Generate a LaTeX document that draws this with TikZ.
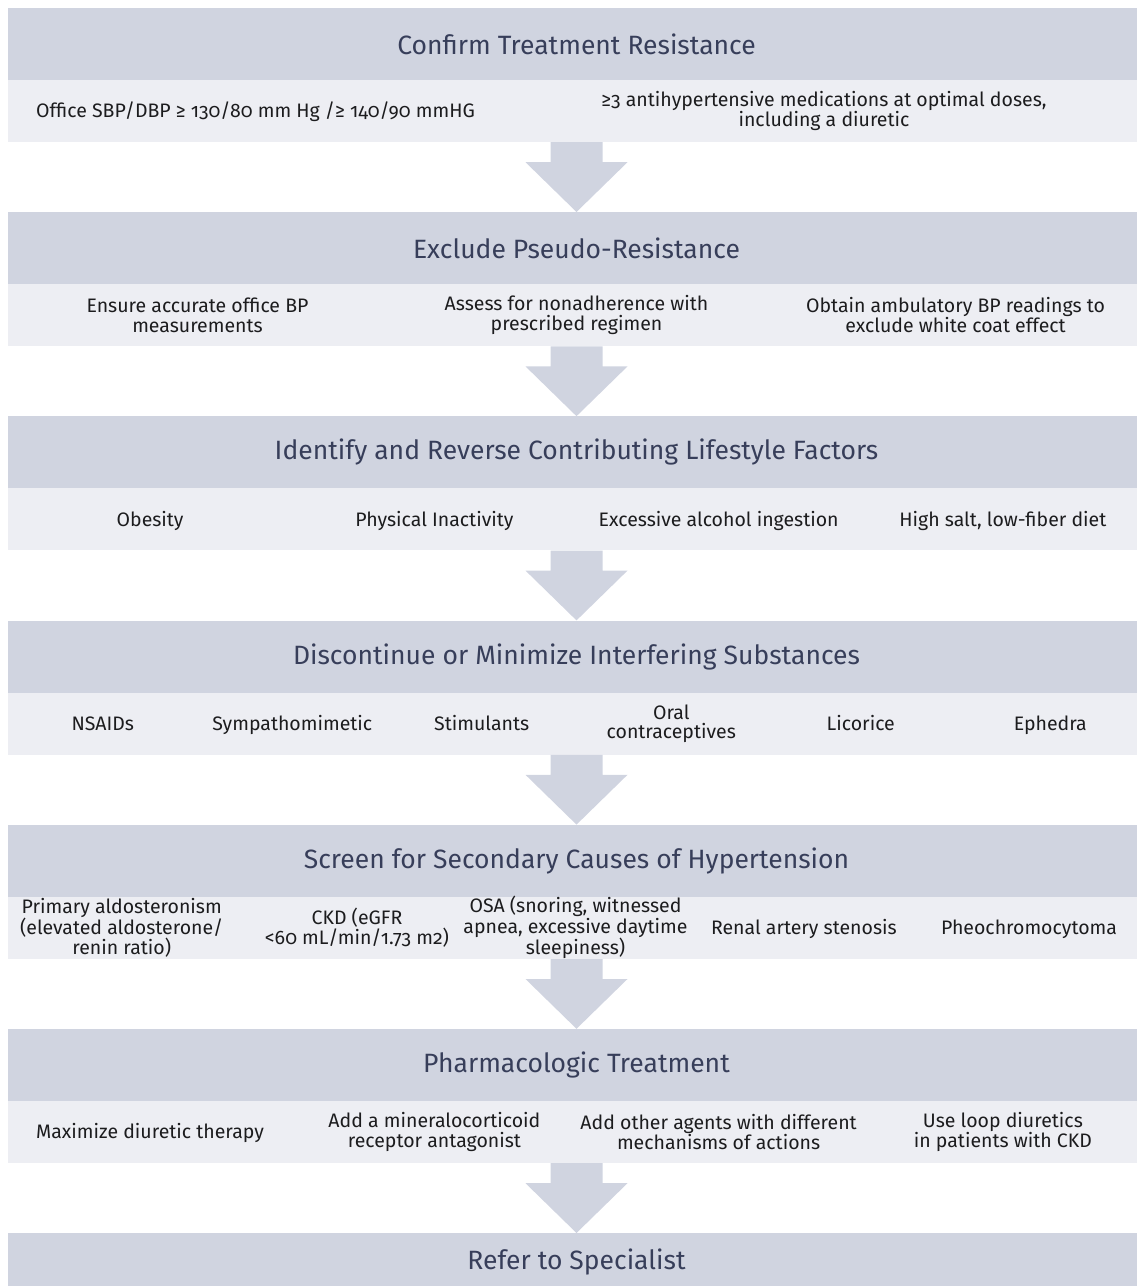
\documentclass[tikz,border=0pt]{standalone}
\usepackage{fontspec}
\setmainfont{Fira Sans}[Numbers=OldStyle]
\usetikzlibrary{calc}
\definecolor{headfill}{RGB}{208,212,224}
\definecolor{rowfill}{RGB}{237,238,243}
\definecolor{titleink}{RGB}{55,62,90}
\definecolor{itemink}{RGB}{28,28,30}

\begin{document}
\begin{tikzpicture}[x=1pt, y=-1pt,
    head/.style={fill=headfill, text=titleink, minimum width=1137pt, minimum height=72pt, inner sep=0pt, font=\fontsize{26.5}{30}\selectfont},
    row/.style={fill=rowfill, minimum width=1137pt, minimum height=62pt, inner sep=0pt},
    item/.style={text=itemink, align=center, inner sep=0pt, font=\fontsize{19.5}{19.5}\selectfont},
    oneline/.style={item, text height=18pt, text depth=4.6pt},
    flow/.style={fill=headfill}]
    \clip (0,0) rectangle (1137,1286);

    % 1
    \node[head] (h1) at (576.5,44) {Confirm Treatment Resistance};
    \node[row] (r1) at (576.5,111) {};
    \node[oneline] (c11) at (255.5,111) {Office SBP/DBP ≥ 130/80 mm Hg /≥ 140/90 mmHG};
    \node[item] (c12) at (824,111) {≥3 antihypertensive medications at optimal doses,\\including a diuretic};

    % 2
    \node[head] (h2) at (576.5,248.2) {Exclude Pseudo-Resistance};
    \node[row] (r2) at (576.5,315.2) {};
    \node[item] (c21) at (197.5,315.2) {Ensure accurate office BP\\measurements};
    \node[item] (c22) at (576.5,315.2) {Assess for nonadherence with\\prescribed regimen};
    \node[item] (c23) at (955.5,315.2) {Obtain ambulatory BP readings to\\exclude white coat effect};

    % 3
    \node[head] (h3) at (576.5,452.4) {Identify and Reverse Contributing Lifestyle Factors};
    \node[row] (r3) at (576.5,519.4) {};
    \node[oneline] (c31) at (150.1,519.4) {Obesity};
    \node[oneline] (c32) at (434.4,519.4) {Physical Inactivity};
    \node[oneline] (c33) at (718.6,519.4) {Excessive alcohol ingestion};
    \node[oneline] (c34) at (1002.9,519.4) {High salt, low-fiber diet};

    % 4
    \node[head] (h4) at (576.5,656.6) {Discontinue or Minimize Interfering Substances};
    \node[row] (r4) at (576.5,723.6) {};
    \node[oneline] (c41) at (102.75,723.6) {NSAIDs};
    \node[oneline] (c42) at (292.25,723.6) {Sympathomimetic};
    \node[oneline] (c43) at (481.75,723.6) {Stimulants};
    \node[item] (c44) at (671.25,723.6) {Oral\\contraceptives};
    \node[oneline] (c45) at (860.75,723.6) {Licorice};
    \node[oneline] (c46) at (1050.25,723.6) {Ephedra};

    % 5
    \node[head] (h5) at (576.5,860.8) {Screen for Secondary Causes of Hypertension};
    \node[row] (r5) at (576.5,927.8) {};
    \node[item, font=\fontsize{19.5}{18.5}\selectfont] (c51) at (121.7,927.8) {Primary aldosteronism\\(elevated aldosterone/\\renin ratio)};
    \node[item] (c52) at (357,927.8) {CKD (eGFR\\<60 mL/min/1.73 m2)};
    \node[item, font=\fontsize{19.5}{18.5}\selectfont] (c53) at (575.5,927.8) {OSA (snoring, witnessed\\apnea, excessive daytime\\sleepiness)};
    \node[oneline] (c54) at (803.9,927.8) {Renal artery stenosis};
    \node[oneline] (c55) at (1029,927.8) {Pheochromocytoma};

    % 6
    \node[head] (h6) at (576.5,1065) {Pharmacologic Treatment};
    \node[row] (r6) at (576.5,1132) {};
    \node[oneline] (c61) at (150.1,1132) {Maximize diuretic therapy};
    \node[item] (c62) at (434.4,1132) {Add a mineralocorticoid\\receptor antagonist};
    \node[item] (c63) at (718.6,1132) {Add other agents with different\\mechanisms of actions};
    \node[item] (c64) at (1002.9,1132) {Use loop diuretics\\in patients with CKD};

    % 7
    \node[head, minimum height=58pt] (h7) at (576.5,1262.2) {Refer to Specialist};

    % block arrows between the stages
    \foreach \a/\b in {r1/h2, r2/h3, r3/h4, r4/h5, r5/h6, r6/h7}
        \fill[flow] ($(\a.south)+(-26,0)$) -- ($(\a.south)+(26,0)$) -- ($(\a.south)+(26,20)$)
            -- ($(\a.south)+(51,20)$) -- (\b.north) -- ($(\a.south)+(-51,20)$) -- ($(\a.south)+(-26,20)$) -- cycle;
\end{tikzpicture}
\end{document}
